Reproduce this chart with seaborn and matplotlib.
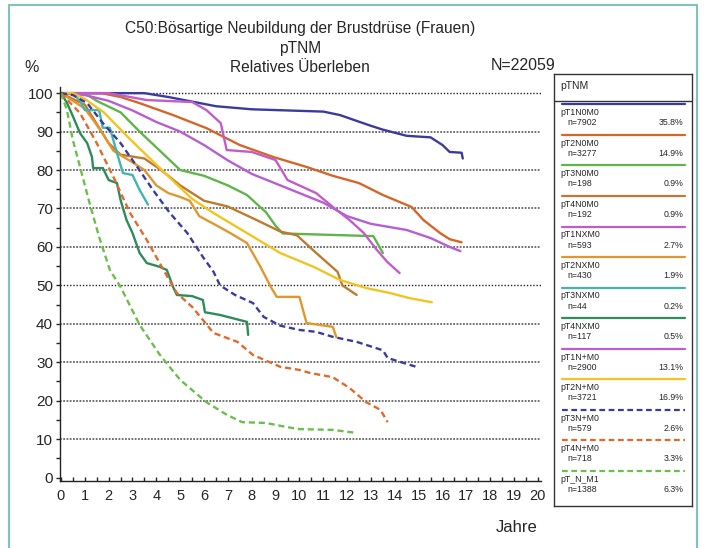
import matplotlib
matplotlib.use("Agg")
import matplotlib.pyplot as plt
from matplotlib.lines import Line2D
import seaborn as sns
import pandas as pd

# Kurven (Jahre, relatives Ueberleben in %)
t_t1n0m0 = [0, 3.5, 4.5, 5.5, 6.5, 8, 10, 11, 11.7, 12.3, 13, 13.5, 14.5, 15.5, 16, 16.3, 16.8, 16.85]
s_t1n0m0 = [100, 100, 99, 97.8, 96.6, 95.8, 95.4, 95.2, 94.3, 93, 91.5, 90.5, 88.9, 88.5, 86.5, 84.7, 84.5, 83]

t_t2n0m0 = [0, 1.7, 2.5, 3.3, 4.7, 6.1, 7.5, 8.9, 10.3, 11.4, 12.5, 13.5, 14.7, 15.2, 15.9, 16.3, 16.8]
s_t2n0m0 = [100, 100, 99, 97.4, 94.3, 90.9, 86.5, 83.4, 80.8, 78.5, 76.6, 73.5, 70.4, 67, 63.6, 62, 61.2]

t_t3n0m0 = [0, 1, 1.5, 2.5, 3.3, 4.15, 5, 6, 7, 7.8, 8.6, 9, 9.3, 13.1, 13.5]
s_t3n0m0 = [100, 100, 98, 95, 90, 85, 80, 78.5, 76, 73.5, 69, 65.5, 63.5, 62.8, 58.4]

t_t4n0m0 = [0, 1, 1.5, 2, 2.5, 3.5, 4.2, 5, 6, 7, 8.2, 9.2, 9.9, 10.6, 11.6, 11.8, 12.4]
s_t4n0m0 = [100, 97, 92, 87, 84, 83, 80, 76, 72, 70.5, 67, 64, 63, 59, 53.5, 50, 47.5]

t_t1nxm0 = [0, 2, 3.6, 5.5, 6.1, 6.7, 6.95, 8, 9, 9.5, 10.7, 11.4, 12.1, 12.7, 13.25, 13.7, 14.2]
s_t1nxm0 = [100, 100, 98.2, 97.7, 95.6, 92.2, 85.2, 84.7, 82.6, 77.4, 74, 70.4, 67, 63.6, 59.2, 56, 53.2]

t_t2nxm0 = [0, 1, 1.7, 2.2, 3, 3.5, 4, 4.5, 5, 5.4, 5.8, 6.4, 7.1, 7.8, 8.35, 8.8, 9.05, 10, 10.3, 11.4, 11.55]
s_t2nxm0 = [100, 96, 90, 85, 82, 80, 76, 74, 73, 72, 68, 66, 63.6, 61, 55, 49.6, 47, 47, 40.2, 39.2, 36.5]

t_t3nxm0 = [0, 0.5, 0.8, 1.0, 1.6, 1.75, 2.05, 2.35, 2.6, 3.0, 3.3, 3.65]
s_t3nxm0 = [100, 100, 98, 95.6, 95.6, 91, 91, 84.4, 79.2, 78.7, 74.8, 71]

t_t4nxm0 = [0, 0.25, 0.5, 0.8, 1.1, 1.3, 1.35, 1.76, 2.0, 2.35, 2.5, 2.75, 3.0, 3.3, 3.6,
            4.15, 4.44, 4.7, 4.86, 5.5, 5.95, 6.04, 6.67, 7.8, 7.85]
s_t4nxm0 = [100, 97.5, 94, 89.6, 87, 83.4, 80.5, 80.5, 77.4, 76.6, 72.2, 67, 63.6, 58.4, 55.8,
            54.8, 54, 49.6, 47.5, 47.2, 46.2, 43, 42.3, 40.5, 37.1]

t_t1npm0 = [0, 1, 2, 3, 4, 5, 6, 7, 8, 9, 10, 11, 12, 13, 14.5, 15.5, 16.3, 16.75]
s_t1npm0 = [100, 99.5, 98, 95.5, 92.5, 90, 86.5, 82.5, 79, 76.5, 74, 71.5, 68, 66, 64.4, 62.3, 60, 58.9]

t_t2npm0 = [0, 0.5, 1, 1.8, 2.9, 3.9, 4.9, 5.5, 6.4, 7.8, 9.2, 10.6, 11.7, 12.8, 13.8, 14.6, 15.55]
s_t2npm0 = [100, 100, 98.5, 95, 88, 82, 76, 72.5, 68.8, 63.6, 58.4, 54.8, 51.4, 49.3, 48, 46.7, 45.6]

t_t3npm0 = [0, 0.5, 1.1, 1.76, 2.5, 3.2, 3.86, 4.57, 5.3, 5.95, 6.4, 6.67, 7.3, 8.05, 8.5, 9.2,
            10, 10.7, 11.4, 12.4, 13.5, 13.7, 14.9]
s_t3npm0 = [100, 99.5, 97.4, 92.2, 87, 80.8, 74.8, 68.8, 63.6, 57.4, 53.5, 50, 47.5, 45.4, 41.8, 39.5,
            38.4, 37.9, 36.6, 35.3, 33.1, 31.1, 28.8]

t_t4npm0 = [0, 0.8, 1.5, 2.2, 2.9, 3.6, 4.3, 4.86, 5.5, 6.4, 7.4, 8.05, 9.2, 10, 10.45, 11.4,
            12.1, 12.8, 13.4, 13.7]
s_t4npm0 = [100, 94.8, 87, 78.2, 68.8, 61.8, 54, 48, 44.4, 37.6, 35.3, 31.9, 28.8, 28, 27.2, 26.1,
            23.3, 19.6, 17.6, 14.4]

t_tnm1 = [0, 0.25, 0.5, 0.8, 1.2, 1.6, 2.05, 2.5, 3.3, 4.15, 5.0, 6.1, 6.96, 7.6, 8.6, 9.5, 10, 11.4, 12.4]
s_tnm1 = [100, 95.6, 87.8, 80.8, 71.4, 62.6, 54, 49.6, 39.7, 31.9, 25.4, 19.6, 16.3, 14.4, 14.2, 13.1,
          12.6, 12.4, 11.6]

gruppen = ["pT1N0M0", "pT2N0M0", "pT3N0M0", "pT4N0M0", "pT1NXM0", "pT2NXM0", "pT3NXM0",
           "pT4NXM0", "pT1N+M0", "pT2N+M0", "pT3N+M0", "pT4N+M0", "pT_N_M1"]
fallzahlen = ["n=7902", "n=3277", "n=198", "n=192", "n=593", "n=430", "n=44",
              "n=117", "n=2900", "n=3721", "n=579", "n=718", "n=1388"]
anteile = ["35.8%", "14.9%", "0.9%", "0.9%", "2.7%", "1.9%", "0.2%",
           "0.5%", "13.1%", "16.9%", "2.6%", "3.3%", "6.3%"]
kurven = [(t_t1n0m0, s_t1n0m0), (t_t2n0m0, s_t2n0m0), (t_t3n0m0, s_t3n0m0), (t_t4n0m0, s_t4n0m0),
          (t_t1nxm0, s_t1nxm0), (t_t2nxm0, s_t2nxm0), (t_t3nxm0, s_t3nxm0), (t_t4nxm0, s_t4nxm0),
          (t_t1npm0, s_t1npm0), (t_t2npm0, s_t2npm0), (t_t3npm0, s_t3npm0), (t_t4npm0, s_t4npm0),
          (t_tnm1, s_tnm1)]

farben = ["#3a3b9c", "#d4662a", "#5fb54a", "#bd7a30", "#c25dc8", "#e2972e", "#44b4b0",
          "#2e8b5a", "#b75ed2", "#f2c420", "#3a3b9c", "#e0692c", "#6cbf4a"]
gestrichelt = [False] * 10 + [True] * 3

# Long-Format Tabelle fuer seaborn
zeilen = []
for name, (tt, ss) in zip(gruppen, kurven):
    for t, s in zip(tt, ss):
        zeilen.append({"Gruppe": name, "Jahre": t, "Prozent": s})
df = pd.DataFrame(zeilen)

sns.set_style("white")
plt.rcParams["font.family"] = ["Liberation Sans", "DejaVu Sans"]

fig = plt.figure(figsize=(7.09, 5.48), dpi=100)
W, H = 709, 548
ax = fig.add_axes([60 / W, 1 - 481 / H, (541 - 60) / W, (481 - 87) / H])

# Gitterlinien
for lvl in range(10, 101, 10):
    if lvl in (50, 100):
        ax.axhline(lvl, color="#222222", lw=1.0, ls=(0, (1, 1.3)), zorder=0)
    else:
        ax.axhline(lvl, color="#666666", lw=1.3, ls=(0, (1, 0.8)), zorder=0)

palette = dict(zip(gruppen, farben))
dashes = {g: ((2.6, 1.6) if d else "") for g, d in zip(gruppen, gestrichelt)}
sns.lineplot(data=df, x="Jahre", y="Prozent", hue="Gruppe", style="Gruppe",
             hue_order=gruppen, style_order=gruppen, palette=palette, dashes=dashes,
             estimator=None, sort=False, legend=False, lw=1.7, ax=ax)

ax.set_xlim(-0.04, 20.13)
ax.set_ylim(-0.9, 101.6)
ax.set_xticks(range(0, 21))
ax.set_xticks([x + 0.5 for x in range(20)], minor=True)
ax.set_yticks(range(0, 101, 10))
ax.set_yticks(range(5, 100, 10), minor=True)
ax.tick_params(axis="x", which="both", direction="in", length=3, width=1, labelsize=10.5, pad=6)
ax.tick_params(axis="y", which="both", direction="out", length=3, width=1, labelsize=11, pad=2)
ax.tick_params(axis="x", which="both", bottom=True)
ax.tick_params(axis="y", which="both", left=True)
for sp in ["top", "right"]:
    ax.spines[sp].set_visible(False)
for sp in ["left", "bottom"]:
    ax.spines[sp].set_color("#222222")
    ax.spines[sp].set_linewidth(1.0)
ax.set_xlabel("")
ax.set_ylabel("")

# Titel und Beschriftungen
fig.text(300 / W, 1 - 29 / H, "C50:Bösartige Neubildung der Brustdrüse (Frauen)", ha="center", va="center", fontsize=11.2)
fig.text(300 / W, 1 - 48 / H, "pTNM", ha="center", va="center", fontsize=11.2)
fig.text(300 / W, 1 - 67 / H, "Relatives Überleben", ha="center", va="center", fontsize=11.2)
fig.text(24 / W, 1 - 67 / H, "%", ha="left", va="center", fontsize=11.5)
fig.text(556 / W, 1 - 66 / H, "N=22059", ha="right", va="center", fontsize=11.5)
fig.text(538 / W, 1 - 527 / H, "Jahre", ha="right", va="center", fontsize=12)

# Legendenkasten
lax = fig.add_axes([554 / W, 1 - 506 / H, (692 - 554) / W, (506 - 74) / H])
lax.set_xlim(0, 138)
lax.set_ylim(432, 0)
lax.set_xticks([])
lax.set_yticks([])
for sp in lax.spines.values():
    sp.set_color("#333333")
    sp.set_linewidth(1.0)
lax.axhline(26.7, color="#333333", lw=1.0)
lax.text(6, 12, "pTNM", ha="left", va="center", fontsize=7.5)
for i, g in enumerate(gruppen):
    y0 = 30.3 + i * 30.55
    lax.plot([7.5, 130.5], [y0, y0], color=farben[i], lw=1.6,
             ls=(0, (2.6, 1.6)) if gestrichelt[i] else "-")
    lax.text(6.5, y0 + 8.3, g, ha="left", va="center", fontsize=6.3)
    lax.text(13, y0 + 18.5, fallzahlen[i], ha="left", va="center", fontsize=6.3)
    lax.text(129.5, y0 + 18.5, anteile[i], ha="right", va="center", fontsize=6.3)

# Rahmen
rahmen = "#7fc4b8"
fig.add_artist(Line2D([9 / W, 697 / W], [1 - 5 / H, 1 - 5 / H], color=rahmen, lw=1.5))
fig.add_artist(Line2D([697 / W, 697 / W], [1 - 5 / H, 0], color=rahmen, lw=1.5))
fig.add_artist(Line2D([9 / W, 9 / W], [1 - 5 / H, 0], color=rahmen, lw=1.5))

fig.savefig("out.png", dpi=100)
